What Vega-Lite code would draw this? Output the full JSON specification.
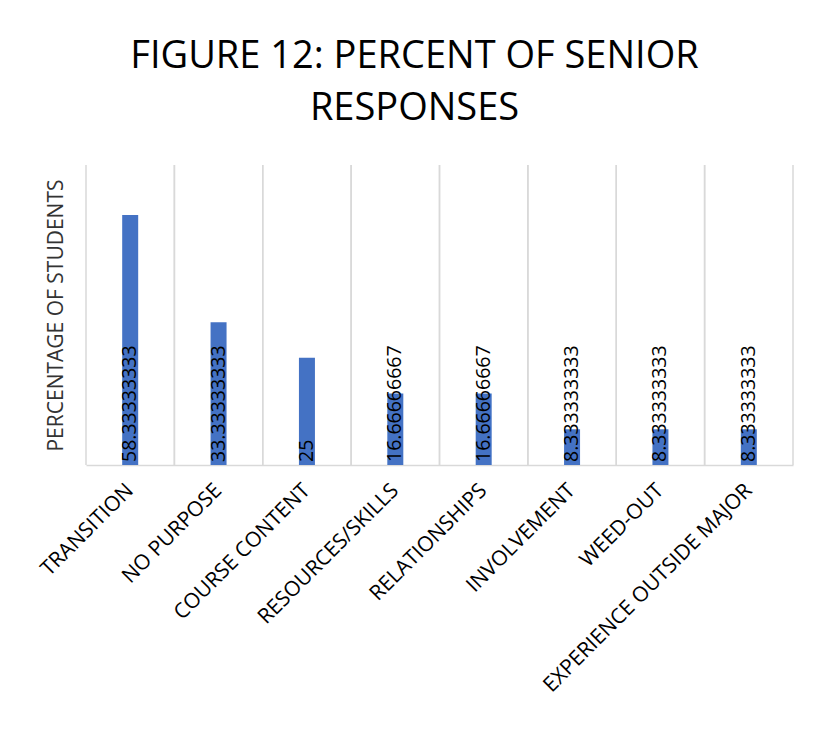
{
  "$schema": "https://vega.github.io/schema/vega-lite/v6.json",
  "autosize": "none",
  "width": 707,
  "height": 300,
  "padding": {"left": 86, "top": 165, "right": 39, "bottom": 281},
  "background": "white",
  "title": {
    "text": ["FIGURE 12: PERCENT OF SENIOR", "RESPONSES"],
    "font": "Open Sans",
    "fontSize": 38,
    "fontWeight": "normal",
    "color": "#000000",
    "anchor": "middle",
    "dx": -25,
    "offset": 36,
    "lineHeight": 52
  },
  "data": {
    "values": [
      {"category": "TRANSITION", "percent": 58.333333333},
      {"category": "NO PURPOSE", "percent": 33.333333333},
      {"category": "COURSE CONTENT", "percent": 25},
      {"category": "RESOURCES/SKILLS", "percent": 16.666666667},
      {"category": "RELATIONSHIPS", "percent": 16.666666667},
      {"category": "INVOLVEMENT", "percent": 8.3333333333},
      {"category": "WEED-OUT", "percent": 8.3333333333},
      {"category": "EXPERIENCE OUTSIDE MAJOR", "percent": 8.3333333333}
    ]
  },
  "encoding": {
    "x": {
      "field": "category",
      "type": "nominal",
      "sort": null,
      "scale": {"paddingInner": 0, "paddingOuter": 0},
      "axis": {
        "title": null,
        "labelAngle": -45,
        "labelAlign": "right",
        "labelBaseline": "middle",
        "labelFont": "Open Sans",
        "labelFontSize": 21,
        "labelColor": "#000000",
        "labelPadding": 22,
        "labelLimit": 500,
        "ticks": false,
        "grid": false,
        "domainColor": "#d9d9d9",
        "domainWidth": 1.5
      }
    }
  },
  "layer": [
    {
      "mark": {"type": "rule", "color": "#d9d9d9", "strokeWidth": 1.5},
      "encoding": {"x": {"field": "category", "type": "nominal", "sort": null, "bandPosition": 0}}
    },
    {
      "mark": {"type": "rule", "color": "#d9d9d9", "strokeWidth": 1.5},
      "encoding": {"x": {"field": "category", "type": "nominal", "sort": null, "bandPosition": 1}}
    },
    {
      "mark": {"type": "bar", "size": 16, "color": "#4472C4"},
      "encoding": {
        "y": {
          "field": "percent",
          "type": "quantitative",
          "scale": {"domain": [0, 70], "nice": false},
          "axis": {
            "title": "PERCENTAGE OF STUDENTS",
            "titleFont": "Open Sans",
            "titleFontSize": 21,
            "titleFontWeight": "normal",
            "titleColor": "#333333",
            "titlePadding": 20,
            "labels": false,
            "ticks": false,
            "domain": false,
            "grid": false
          }
        }
      }
    },
    {
      "mark": {"type": "text", "angle": 270, "align": "left", "baseline": "middle", "dx": 3, "font": "Open Sans", "fontSize": 19.5, "color": "#000000"},
      "encoding": {
        "y": {"datum": 0, "type": "quantitative"},
        "text": {"field": "percent", "type": "quantitative", "format": ".10~r"}
      }
    }
  ],
  "config": {
    "view": {"stroke": null}
  }
}
